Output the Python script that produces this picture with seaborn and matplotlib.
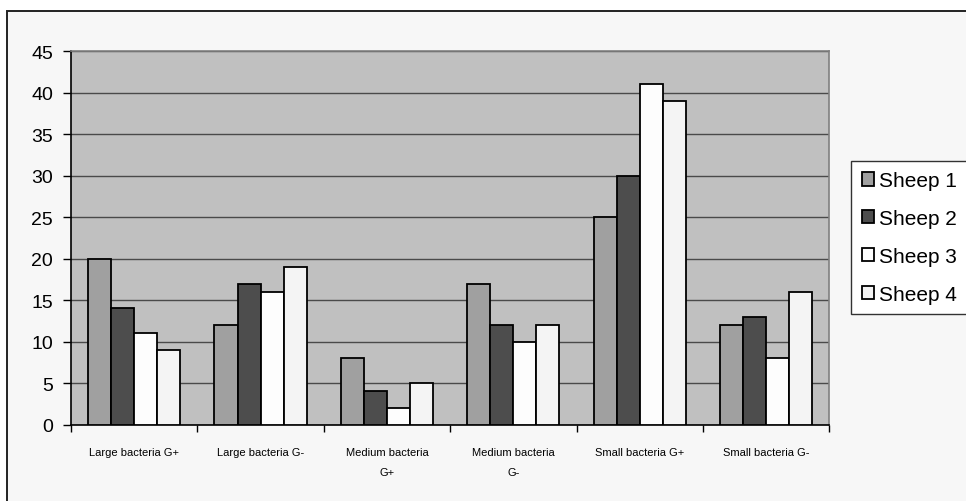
import pandas as pd
import seaborn as sns
import matplotlib.pyplot as plt
from matplotlib.patches import Rectangle

# dados
categorias = ['Large bacteria G+', 'Large bacteria G-', 'Medium bacteria\nG+',
              'Medium bacteria\nG-', 'Small bacteria G+', 'Small bacteria G-']
ovelhas = ['Sheep 1', 'Sheep 2', 'Sheep 3', 'Sheep 4']
sheep1 = [20, 12, 8, 17, 25, 12]
sheep2 = [14, 17, 4, 12, 30, 13]
sheep3 = [11, 16, 2, 10, 41, 8]
sheep4 = [9, 19, 5, 12, 39, 16]

df = pd.DataFrame({
    'Categoria': categorias * 4,
    'Ovelha': [o for o in ovelhas for _ in categorias],
    'Valor': sheep1 + sheep2 + sheep3 + sheep4,
})

cores = ['#A0A0A0', '#4D4D4D', '#FDFDFD', '#F4F4F4']

plt.rcParams['font.family'] = ['Liberation Sans', 'DejaVu Sans']
fig = plt.figure(figsize=(9.66, 5.02), dpi=100, facecolor='white')

# moldura externa (cortada à direita e embaixo, como no original)
fig.patches.append(Rectangle((7 / 966, -0.02), 1.02, 1 - 12 / 502 + 0.02,
                             transform=fig.transFigure, facecolor='#F7F7F7',
                             edgecolor='#222222', linewidth=1.4, zorder=-5))

ax = fig.add_axes([0.0735, 0.152, 0.785, 0.744])
ax.set_zorder(1)
ax.set_facecolor('#C0C0C0')

sns.barplot(data=df, x='Categoria', y='Valor', hue='Ovelha', palette=cores,
            width=0.73, gap=0, edgecolor='black', linewidth=1.3, ax=ax,
            zorder=3)

ax.set_ylim(0, 45)
ax.set_yticks(range(0, 46, 5))
ax.set_xlim(-0.5, len(categorias) - 0.5)
ax.yaxis.grid(True, color='#4A4A4A', linewidth=1)
ax.set_axisbelow(True)
ax.tick_params(axis='y', labelsize=14, length=6, direction='out', width=1, pad=7)
ax.set_xticks(range(len(categorias)))
ax.set_xticklabels(categorias, fontsize=8, linespacing=2.2)
ax.tick_params(axis='x', length=0, pad=16)
# marcas entre os grupos
ax.set_xticks([i - 0.5 for i in range(len(categorias) + 1)], minor=True)
ax.tick_params(axis='x', which='minor', length=5, width=1, direction='out')
ax.set_xlabel('')
ax.set_ylabel('')

for lado in ['left', 'bottom']:
    ax.spines[lado].set_color('black')
    ax.spines[lado].set_linewidth(1.2)
for lado in ['top', 'right']:
    ax.spines[lado].set_color('#808080')
    ax.spines[lado].set_linewidth(1.2)

leg = ax.legend(loc='upper left', bbox_to_anchor=(1.029, 0.706), fontsize=15,
                frameon=True, fancybox=False, edgecolor='#333333',
                facecolor='white', framealpha=1,
                handlelength=0.6, handleheight=0.6, handletextpad=0.25,
                labelspacing=0.9, borderpad=0.5, borderaxespad=0)
leg.get_frame().set_linewidth(1)

fig.savefig('out.png', dpi=100)
